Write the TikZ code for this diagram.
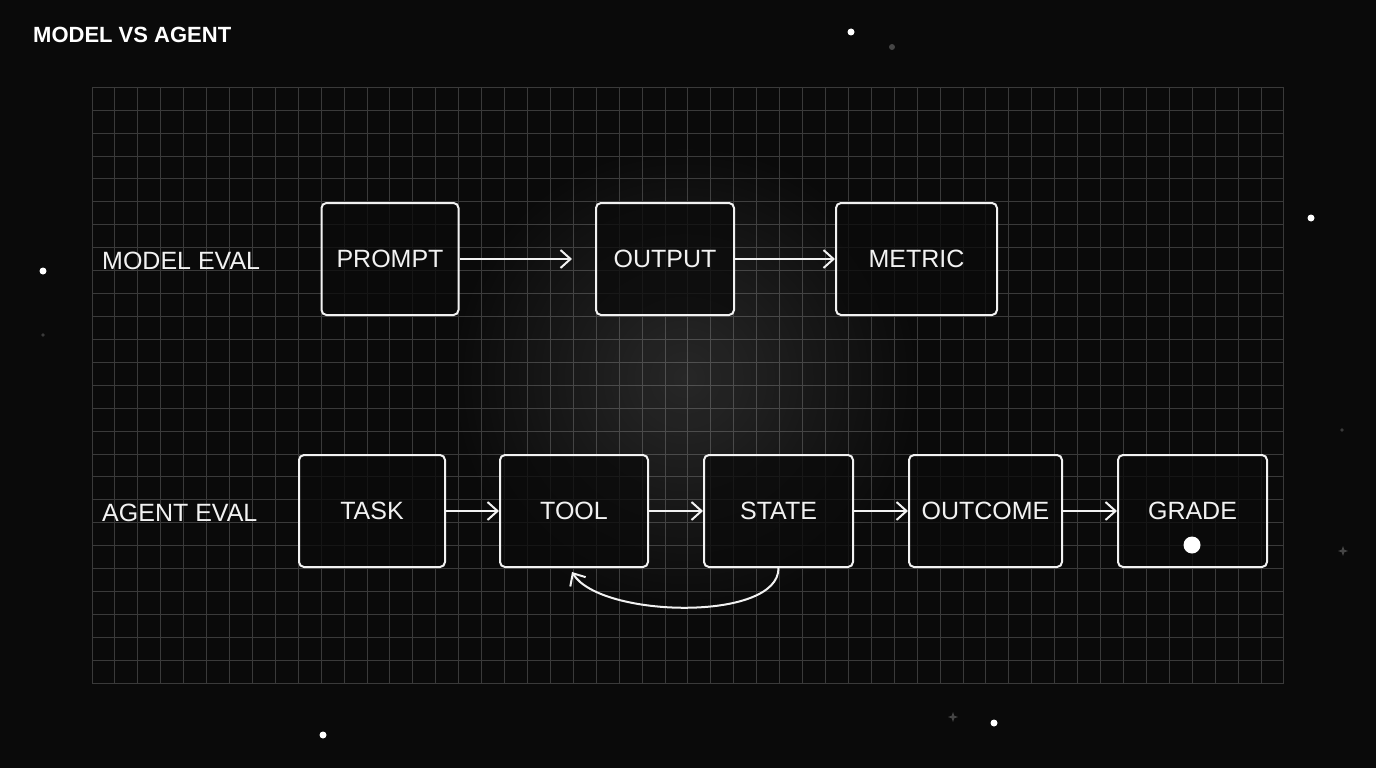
\documentclass[tikz,border=0pt]{standalone}
\usepackage{fontspec}
\setmainfont{Liberation Sans}
\usetikzlibrary{arrows.meta,fadings,calc}
\definecolor{bgc}{HTML}{0A0A0A}
\definecolor{gridc}{HTML}{3A3A3A}
\definecolor{txtc}{HTML}{F2F2F2}
\definecolor{dimc}{HTML}{454545}
\tikzfading[name=glowfade, inner color=transparent!0, outer color=transparent!100]
\tikzset{
  box/.style={draw=txtc, line width=2pt, rounded corners=5pt, fill=bgc,
    fill opacity=0.75, draw opacity=1, text opacity=1,
    minimum height=112pt, inner sep=0pt, text=txtc,
    font=\fontsize{25}{30}\selectfont},
  rowlabel/.style={anchor=base west, inner sep=0pt, text=txtc,
    font=\fontsize{25}{30}\selectfont},
  flow/.style={draw=txtc, line width=2pt, -{Straight Barb[length=10pt,width=18pt]}},
  gridline/.style={draw=gridc, line width=1pt},
  brightdot/.style={fill=white},
  dimdot/.style={fill=dimc},
}
\begin{document}
\begin{tikzpicture}[x=1pt,y=-1pt]
\useasboundingbox (0,0) rectangle (1376,768);
\fill[bgc] (0,0) rectangle (1376,768);
% grid
\foreach \i in {0,...,52} {
  \pgfmathsetmacro{\gx}{floor(92+\i*22.923)+0.5}
  \draw[gridline] (\gx,87.5) -- (\gx,683.5);
}
\foreach \j in {0,...,26} {
  \pgfmathsetmacro{\gy}{floor(87.3+\j*22.923)+0.5}
  \draw[gridline] (92,\gy) -- (1284,\gy);
}
% glow
\fill[white, opacity=0.12, path fading=glowfade] (685,378) circle (240);
% stars
\fill[brightdot] (851,32) circle (3.5);
\fill[brightdot] (1311,218) circle (3.5);
\fill[brightdot] (43,271) circle (3.5);
\fill[brightdot] (323,735) circle (3.5);
\fill[brightdot] (994,723) circle (3.5);
\fill[dimdot] (892,47) circle (3);
\fill[fill=gridc] (43,335) circle (1.8);
\fill[fill=gridc] (1342,430) circle (1.8);
\fill[dimdot] (953,712) -- (954.3,715.7) -- (958,717) -- (954.3,718.3) -- (953,722) -- (951.7,718.3) -- (948,717) -- (951.7,715.7) -- cycle;
\fill[dimdot] (1343,546) -- (1344.3,549.7) -- (1348,551) -- (1344.3,552.3) -- (1343,556) -- (1341.7,552.3) -- (1338,551) -- (1341.7,549.7) -- cycle;
% title
\node[anchor=base west, inner sep=0pt, text=white, font=\fontsize{22}{26}\selectfont\bfseries] (title) at (33,43) {MODEL VS AGENT};
% row labels
\node[rowlabel] (modeleval) at (102,269) {MODEL EVAL};
\node[rowlabel] (agenteval) at (102,521) {AGENT EVAL};
% model row
\node[box, minimum width=137pt] (prompt) at (390,259) {PROMPT};
\node[box, minimum width=138pt] (output) at (665,259) {OUTPUT};
\node[box, minimum width=161pt] (metric) at (916.5,259) {METRIC};
\coordinate (promptend) at (572,259);
\draw[flow] (prompt.east) -- (promptend);
\draw[flow] (output.east) -- (metric.west);
% agent row
\node[box, minimum width=146pt] (task) at (372,511) {TASK};
\node[box, minimum width=148pt] (tool) at (574,511) {TOOL};
\node[box, minimum width=149pt] (state) at (778.5,511) {STATE};
\node[box, minimum width=153pt] (outcome) at (985.5,511) {OUTCOME};
\node[box, minimum width=149pt] (grade) at (1192.5,511) {GRADE};
\fill[white] (1192,545) circle (8.5);
\draw[flow] (task.east) -- (tool.west);
\draw[flow] (tool.east) -- (state.west);
\draw[flow] (state.east) -- (outcome.west);
\draw[flow] (outcome.east) -- (grade.west);
\coordinate (loopend) at (572,572);
\draw[flow] (state.south) .. controls (779,622) and (600,618) .. (loopend);
\end{tikzpicture}
\end{document}
